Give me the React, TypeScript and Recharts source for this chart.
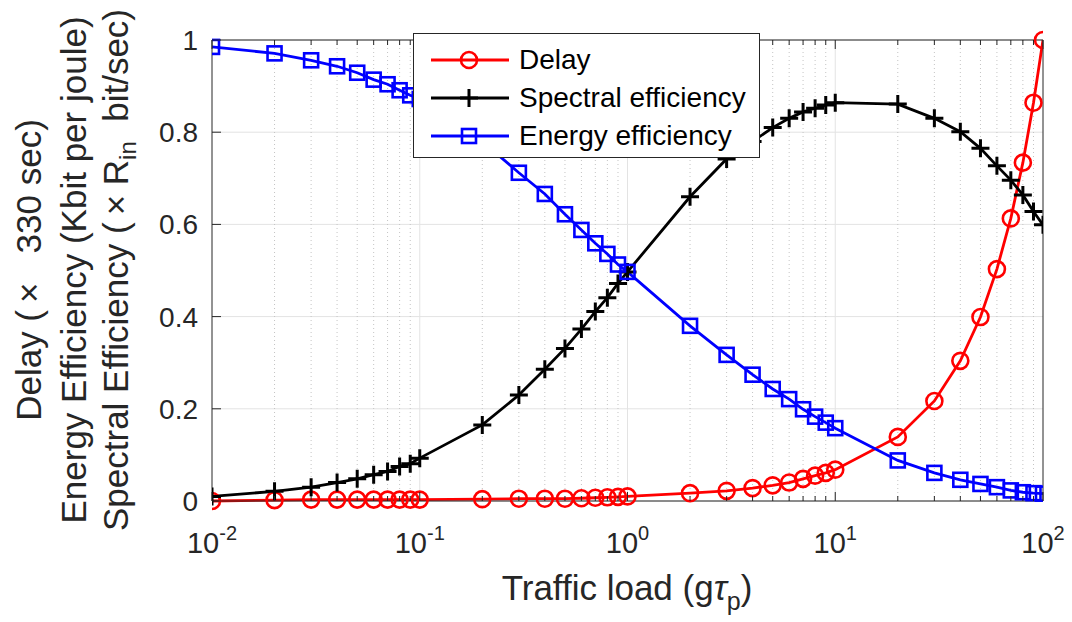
import { LineChart, Line, XAxis, YAxis, CartesianGrid, ReferenceLine, Legend } from "recharts";

// traffic load g*tau_p (log axis)
const LOADS = [
  0.01, 0.02, 0.03, 0.04, 0.05, 0.06, 0.07, 0.08, 0.09, 0.1,
  0.2, 0.3, 0.4, 0.5, 0.6, 0.7, 0.8, 0.9, 1,
  2, 3, 4, 5, 6, 7, 8, 9, 10,
  20, 30, 40, 50, 60, 70, 80, 90, 100,
];

const DELAY = [
  0.0, 0.002, 0.003, 0.003, 0.003, 0.003, 0.003, 0.003, 0.003, 0.003,
  0.004, 0.005, 0.005, 0.005, 0.006, 0.007, 0.008, 0.009, 0.01,
  0.017, 0.022, 0.028, 0.034, 0.04, 0.048, 0.055, 0.061, 0.068,
  0.139, 0.217, 0.304, 0.399, 0.503, 0.613, 0.734, 0.864, 1.0,
];

const SPECTRAL = [
  0.01, 0.021, 0.03, 0.04, 0.048, 0.057, 0.064, 0.075, 0.081, 0.093,
  0.165, 0.23, 0.286, 0.331, 0.373, 0.411, 0.441, 0.472, 0.497,
  0.66, 0.742, 0.78, 0.81, 0.83, 0.844, 0.852, 0.859, 0.864,
  0.861, 0.83, 0.801, 0.765, 0.727, 0.696, 0.664, 0.628, 0.599,
];

const ENERGY = [
  0.985, 0.971, 0.956, 0.943, 0.929, 0.914, 0.904, 0.891, 0.88, 0.872,
  0.78, 0.712, 0.666, 0.622, 0.588, 0.559, 0.536, 0.513, 0.497,
  0.38, 0.317, 0.274, 0.243, 0.221, 0.199, 0.183, 0.17, 0.158,
  0.088, 0.061, 0.046, 0.037, 0.03, 0.023, 0.019, 0.017, 0.016,
];

const MAJOR_X = [0.01, 0.1, 1, 10, 100];
const X_EXPONENTS = ["-2", "-1", "0", "1", "2"];
const MINOR_X = [
  0.02, 0.03, 0.04, 0.05, 0.06, 0.07, 0.08, 0.09,
  0.2, 0.3, 0.4, 0.5, 0.6, 0.7, 0.8, 0.9,
  2, 3, 4, 5, 6, 7, 8, 9,
  20, 30, 40, 50, 60, 70, 80, 90,
];
const Y_TICKS = [0, 0.2, 0.4, 0.6, 0.8, 1];
const Y_LABELS = ["0", "0.2", "0.4", "0.6", "0.8", "1"];

const FONT = '"Liberation Sans", Arial, Helvetica, sans-serif';
const AXIS = "#262626";
const RED = "#ff0000";
const BLACK = "#000000";
const BLUE = "#0000ff";

const data = LOADS.map((x, i) => ({
  x,
  delay: DELAY[i],
  spectral: SPECTRAL[i],
  energy: ENERGY[i],
}));

const X_TICKS = [...MAJOR_X, ...MINOR_X].sort((a, b) => a - b);

function Marker({ kind, cx, cy, color }: { kind: string; cx: number; cy: number; color: string }) {
  if (kind === "circle")
    return <circle cx={cx} cy={cy} r={8} fill="none" stroke={color} strokeWidth={2.6} />;
  if (kind === "plus")
    return (
      <path
        d={`M${cx - 9},${cy}H${cx + 9}M${cx},${cy - 9}V${cy + 9}`}
        stroke={color}
        strokeWidth={3}
        fill="none"
      />
    );
  return <rect x={cx - 7} y={cy - 7} width={14} height={14} fill="none" stroke={color} strokeWidth={2.6} />;
}

const dotFor = (kind: string, color: string) => (p: any) =>
  <Marker key={`${kind}-${p.index}`} kind={kind} cx={p.cx} cy={p.cy} color={color} />;

function BottomTick({ x, y, payload }: any) {
  const i = MAJOR_X.indexOf(payload.value);
  if (i < 0) return <line x1={x} x2={x} y1={y} y2={y - 5} stroke={AXIS} />;
  return (
    <g>
      <line x1={x} x2={x} y1={y} y2={y - 9} stroke={AXIS} />
      <text x={x} y={y + 52} textAnchor="middle" fontSize={29} fill={AXIS} fontFamily={FONT}>
        10<tspan dy={-13} fontSize={20}>{X_EXPONENTS[i]}</tspan>
      </text>
    </g>
  );
}

function TopTick({ x, y, payload }: any) {
  const len = MAJOR_X.includes(payload.value) ? 9 : 5;
  return <line x1={x} x2={x} y1={y} y2={y + len} stroke={AXIS} />;
}

function LeftTick({ x, y, payload }: any) {
  const i = Y_TICKS.indexOf(payload.value);
  return (
    <g>
      <line x1={x} x2={x + 9} y1={y} y2={y} stroke={AXIS} />
      <text x={x - 14} y={y} dy="0.36em" textAnchor="end" fontSize={28} fill={AXIS} fontFamily={FONT}>
        {Y_LABELS[i]}
      </text>
    </g>
  );
}

function RightTick({ x, y }: any) {
  return <line x1={x} x2={x - 9} y1={y} y2={y} stroke={AXIS} />;
}

function YTitle() {
  return (
    <g fontFamily={FONT} fontSize={35} fill={AXIS}>
      <text transform="translate(41,270) rotate(-90)" textAnchor="middle">
        {"Delay (\u2009\u00d7\u00a0\u00a0 330 sec)"}
      </text>
      <text transform="translate(86,270) rotate(-90)" textAnchor="middle">
        Energy Efficiency (Kbit per joule)
      </text>
      <text transform="translate(128,270) rotate(-90)" textAnchor="middle">
        {"Spectral Efficiency (\u2009\u00d7 R"}
        <tspan dy={8} fontSize={24}>in</tspan>
        <tspan dy={-8}>{"\u00a0\u00a0bit/sec)"}</tspan>
      </text>
    </g>
  );
}

function XTitle() {
  return (
    <text x={627} y={600} textAnchor="middle" fontFamily={FONT} fontSize={35} fill={AXIS}>
      Traffic load (g<tspan fontStyle="italic">τ</tspan>
      <tspan dy={10} fontSize={25}>p</tspan>
      <tspan dy={-10}>)</tspan>
    </text>
  );
}

const SERIES = [
  { name: "Delay", color: RED, kind: "circle" },
  { name: "Spectral efficiency", color: BLACK, kind: "plus" },
  { name: "Energy efficiency", color: BLUE, kind: "square" },
];

function LegendBox() {
  return (
    <div
      style={{
        width: 345,
        height: 116,
        border: `1px solid ${AXIS}`,
        background: "#fff",
        fontFamily: FONT,
        fontSize: 28,
        color: "#000",
        paddingTop: 7,
      }}
    >
      {SERIES.map((s) => (
        <div key={s.name} style={{ display: "flex", alignItems: "center", height: 38 }}>
          <svg width={100} height={30} style={{ display: "block" }}>
            <line x1={17} x2={95} y1={15} y2={15} stroke={s.color} strokeWidth={2.8} />
            <Marker kind={s.kind} cx={55} cy={15} color={s.color} />
          </svg>
          <span style={{ marginLeft: 5, lineHeight: "30px" }}>{s.name}</span>
        </div>
      ))}
    </div>
  );
}

export default function App() {
  return (
    <div style={{ position: "fixed", left: 0, top: 0, width: 1072, height: 622, background: "#fff" }}>
      <LineChart width={1072} height={622} data={data} margin={{ top: 0, right: 0, bottom: 0, left: 0 }}>
        <CartesianGrid vertical={false} stroke="#e3e3e3" strokeWidth={1} xAxisId="b" yAxisId="l" />
        {MINOR_X.map((v) => (
          <ReferenceLine key={`m${v}`} x={v} xAxisId="b" yAxisId="l" stroke="#c4c4c4" strokeDasharray="1 3" />
        ))}
        {[0.1, 1, 10].map((v) => (
          <ReferenceLine key={`M${v}`} x={v} xAxisId="b" yAxisId="l" stroke="#e3e3e3" />
        ))}
        <XAxis
          xAxisId="b"
          dataKey="x"
          type="number"
          scale="log"
          domain={[0.01, 100]}
          ticks={X_TICKS}
          interval={0}
          height={121}
          tickSize={0}
          tickMargin={0}
          tick={<BottomTick />}
          stroke={AXIS}
          allowDataOverflow
          label={<XTitle />}
        />
        <XAxis
          xAxisId="t"
          orientation="top"
          dataKey="x"
          type="number"
          scale="log"
          domain={[0.01, 100]}
          ticks={X_TICKS}
          interval={0}
          height={40}
          tickSize={0}
          tickMargin={0}
          tick={<TopTick />}
          stroke={AXIS}
          allowDataOverflow
        />
        <YAxis
          yAxisId="l"
          type="number"
          domain={[0, 1]}
          ticks={Y_TICKS}
          interval={0}
          width={212}
          tickSize={0}
          tickMargin={0}
          tick={<LeftTick />}
          stroke={AXIS}
          label={<YTitle />}
        />
        <YAxis
          yAxisId="r"
          orientation="right"
          type="number"
          domain={[0, 1]}
          ticks={Y_TICKS}
          interval={0}
          width={29}
          tickSize={0}
          tickMargin={0}
          tick={<RightTick />}
          stroke={AXIS}
        />
        <Line
          xAxisId="b"
          yAxisId="l"
          type="linear"
          dataKey="delay"
          name="Delay"
          stroke={RED}
          strokeWidth={2.8}
          dot={dotFor("circle", RED)}
          isAnimationActive={false}
        />
        <Line
          xAxisId="b"
          yAxisId="l"
          type="linear"
          dataKey="spectral"
          name="Spectral efficiency"
          stroke={BLACK}
          strokeWidth={2.8}
          dot={dotFor("plus", BLACK)}
          isAnimationActive={false}
        />
        <Line
          xAxisId="b"
          yAxisId="l"
          type="linear"
          dataKey="energy"
          name="Energy efficiency"
          stroke={BLUE}
          strokeWidth={2.8}
          dot={dotFor("square", BLUE)}
          isAnimationActive={false}
        />
        <Legend
          layout="vertical"
          align="center"
          verticalAlign="middle"
          content={<LegendBox />}
          wrapperStyle={{ left: 413, top: 33, width: "auto" }}
        />
      </LineChart>
    </div>
  );
}
